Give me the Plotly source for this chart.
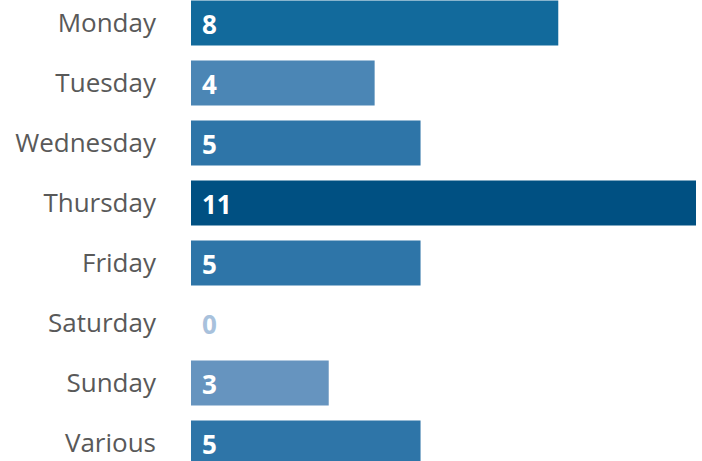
import plotly.graph_objects as go

days = ["Monday", "Tuesday", "Wednesday", "Thursday", "Friday", "Saturday", "Sunday", "Various"]
counts = [8, 4, 5, 11, 5, 0, 3, 5]
bar_colors = ["#126a9c", "#4b86b5", "#2e75a8", "#005082", "#2e75a8", "#a8c1dc", "#6694bf", "#2e75a8"]
label_colors = ["#ffffff", "#ffffff", "#ffffff", "#ffffff", "#ffffff", "#a8c1dc", "#ffffff", "#ffffff"]

fig = go.Figure()
fig.add_trace(go.Bar(
    x=counts, y=days, orientation="h",
    marker=dict(color=bar_colors, line=dict(width=0)),
    hoverinfo="skip",
))

for d, c, col in zip(days, counts, label_colors):
    fig.add_annotation(
        x=0, y=d, text=f"<b>{c}</b>", showarrow=False,
        xanchor="left", yanchor="middle", xshift=9, yshift=-1,
        font=dict(family="Open Sans", size=26, color=col),
    )

fig.update_layout(
    width=702, height=461,
    margin=dict(l=191, r=6, t=0, b=0, pad=0),
    paper_bgcolor="white", plot_bgcolor="white",
    bargap=0.25,
    showlegend=False,
    xaxis=dict(range=[0, 11], visible=False, fixedrange=True),
    yaxis=dict(
        type="category",
        categoryorder="array", categoryarray=days,
        range=[7.3, -0.383],
        showgrid=False, zeroline=False, showline=False,
        ticks="", ticklabelstandoff=34,
        tickfont=dict(family="Open Sans", size=26, color="#595959"),
        automargin=False, fixedrange=True,
    ),
)

fig.write_html(
    "out.html",
    config={"displayModeBar": False, "staticPlot": True},
    post_script="document.body.style.margin='0';document.body.style.overflow='hidden';",
)
